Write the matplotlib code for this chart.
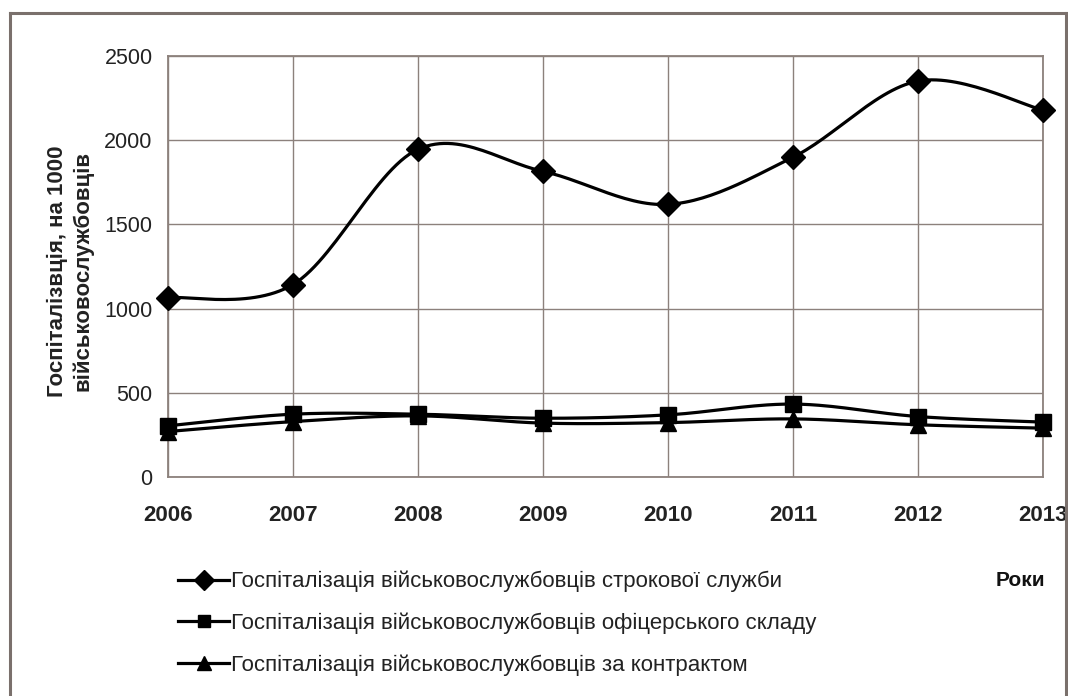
import numpy as np
import matplotlib
matplotlib.use("Agg")
import matplotlib.pyplot as plt
from matplotlib.lines import Line2D

years = [2006, 2007, 2008, 2009, 2010, 2011, 2012, 2013]
conscripts = [1065, 1143, 1946, 1815, 1619, 1899, 2351, 2179]
officers = [304, 373, 373, 349, 369, 433, 359, 326]
contract = [270, 329, 363, 320, 323, 345, 310, 290]

labels = [
    "Госпіталізація військовослужбовців строкової служби",
    "Госпіталізація військовослужбовців офіцерського складу",
    "Госпіталізація військовослужбовців за контрактом",
]
ylabel = "Госпіталізвція, на 1000\nвійськовослужбовців"
xlabel = "Роки"
yticks = [0, 500, 1000, 1500, 2000, 2500]

plt.rcParams['font.family'] = ["Liberation Sans", "DejaVu Sans"]


def smooth(x, y, n=30):
    x = np.asarray(x, float)
    y = np.asarray(y, float)
    xs, ys = [], []
    for i in range(len(x) - 1):
        p0 = np.array([x[max(i - 1, 0)], y[max(i - 1, 0)]])
        p1 = np.array([x[i], y[i]])
        p2 = np.array([x[i + 1], y[i + 1]])
        p3 = np.array([x[min(i + 2, len(x) - 1)], y[min(i + 2, len(x) - 1)]])
        c1 = p1 + (p2 - p0) / 6.0
        c2 = p2 - (p3 - p1) / 6.0
        t = np.linspace(0, 1, n)[:, None]
        pts = ((1 - t) ** 3) * p1 + 3 * ((1 - t) ** 2) * t * c1 + 3 * (1 - t) * t ** 2 * c2 + t ** 3 * p2
        xs.extend(pts[:, 0])
        ys.extend(pts[:, 1])
    return np.array(xs), np.array(ys)


W, H = 1068, 696
fig = plt.figure(figsize=(W / 100, H / 100), dpi=100)
fig.patch.set_facecolor("white")

# outer frame
border = "#7a706c"
fig.add_artist(Line2D([10 / W, 1066 / W], [1 - 13 / H, 1 - 13 / H], color=border, lw=2.2, transform=fig.transFigure))
fig.add_artist(Line2D([10 / W, 10 / W], [0, 1 - 13 / H], color=border, lw=2.2, transform=fig.transFigure))
fig.add_artist(Line2D([1066 / W, 1066 / W], [0, 1 - 13 / H], color=border, lw=2.2, transform=fig.transFigure))

left, right, top, bottom = 168, 1043, 56, 477
ax = fig.add_axes([left / W, 1 - bottom / H, (right - left) / W, (bottom - top) / H])
ax.set_xlim(years[0], years[-1])
ax.set_ylim(0, 2500)
ax.set_yticks(yticks)
ax.set_xticks(years)
ax.set_xticklabels([str(y) for y in years], fontweight="bold", fontsize=16)
ax.set_yticklabels([str(v) for v in yticks], fontsize=15.5)
ax.tick_params(axis="both", length=0, colors="#222222")
ax.tick_params(axis="x", pad=28)
ax.tick_params(axis="y", pad=11)
for t in ax.get_xticklabels():
    t.set_va("center")
grid_c = "#8c817c"
ax.grid(True, color=grid_c, lw=1.0)
ax.set_axisbelow(True)
for s in ax.spines.values():
    s.set_color(grid_c)
    s.set_linewidth(1.3)

series = [(conscripts, "D", 12), (officers, "s", 11), (contract, "^", 12)]
handles = []
for (vals, m, ms), lab in zip(series, labels):
    sx, sy = smooth(years, vals)
    ax.plot(sx, sy, color="black", lw=2.3, solid_capstyle="round", clip_on=False, zorder=3)
    ax.plot(years, vals, linestyle="none", marker=m, markersize=ms, color="black", clip_on=False, zorder=4)
    handles.append(Line2D([], [], color="black", lw=2.3, marker=m, markersize=ms - 2))

fig.text(70 / W, 1 - 271 / H, ylabel, rotation=90, ha="center", va="center",
         fontsize=16, fontweight="bold", linespacing=1.25, color="#222222")
fig.text(1045 / W, 1 - 581 / H, xlabel, ha="right", va="center", fontsize=15, fontweight="bold", color="#111111")

leg = fig.legend(handles, labels, loc="upper left", bbox_to_anchor=(178 / W, 1 - 571 / H),
                 frameon=False, fontsize=16, handlelength=2.3, handletextpad=0.1,
                 labelspacing=0.9, borderaxespad=0, borderpad=0)
for t in leg.get_texts():
    t.set_color("#222222")

fig.savefig("out.png", dpi=100, facecolor="white")
